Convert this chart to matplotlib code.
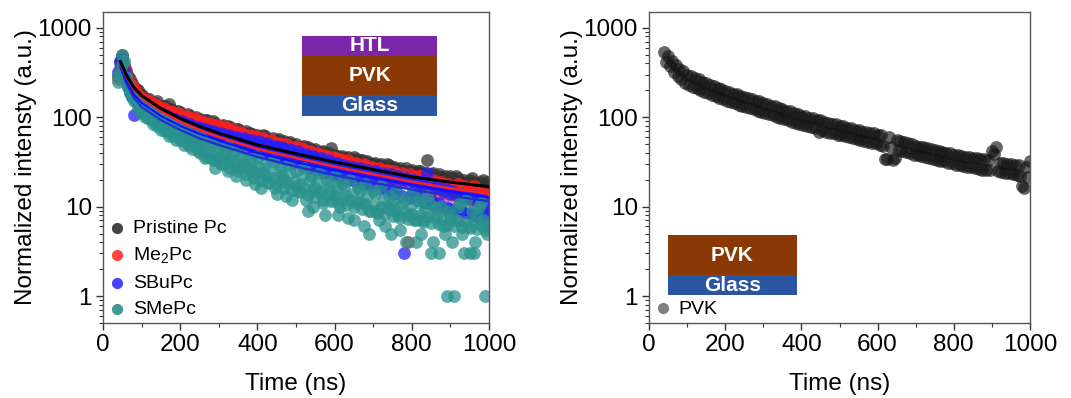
import matplotlib
matplotlib.use("Agg")
import matplotlib.pyplot as plt
from matplotlib.patches import Rectangle
from matplotlib.ticker import LogLocator, NullFormatter, FixedLocator

plt.rcParams['font.family'] = ['Liberation Sans', 'DejaVu Sans']
plt.rcParams['mathtext.default'] = 'regular'

# ---------------- data ----------------
# two interleaved sampling grids of the same decays
time_a = [40, 50, 60, 70, 80, 90, 100, 110, 120, 130, 140, 150, 160, 170, 180, 190,
          200, 210, 220, 230, 240, 250, 260, 270, 280, 290, 300, 310, 320, 330, 340,
          350, 360, 370, 380, 390, 400, 410, 420, 430, 440, 450, 460, 470, 480, 490,
          500, 510, 520, 530, 540, 550, 560, 570, 580, 590, 600, 610, 620, 630, 640,
          650, 660, 670, 680, 690, 700, 710, 720, 730, 740, 750, 760, 770, 780, 790,
          800, 810, 820, 830, 840, 850, 860, 870, 880, 890, 900, 910, 920, 930, 940,
          950, 960, 970, 980, 990, 1000]
time_b = [45, 55, 65, 75, 85, 95, 105, 115, 125, 135, 145, 155, 165, 175, 185, 195,
          205, 215, 225, 235, 245, 255, 265, 275, 285, 295, 305, 315, 325, 335, 345,
          355, 365, 375, 385, 395, 405, 415, 425, 435, 445, 455, 465, 475, 485, 495,
          505, 515, 525, 535, 545, 555, 565, 575, 585, 595, 605, 615, 625, 635, 645,
          655, 665, 675, 685, 695, 705, 715, 725, 735, 745, 755, 765, 775, 785, 795,
          805, 815, 825, 835, 845, 855, 865, 875, 885, 895, 905, 915, 925, 935, 945,
          955, 965, 975, 985, 995]

pristine_a = [290, 500, 340, 270, 215, 200, 175, 150, 160, 140, 150, 128, 135, 140, 120, 108,
              115, 100, 108, 92, 100, 95, 85, 92, 80, 86, 75, 82, 72, 78, 68,
              74, 64, 70, 66, 58, 64, 56, 61, 53, 58, 55, 49, 54, 52, 45,
              50, 43, 48, 46, 40, 44, 38, 42, 36, 45, 38, 33, 37, 35, 31,
              36, 30, 33, 28, 31, 30, 27, 30, 26, 29, 27, 24, 27, 25, 23,
              26, 22, 25, 21, 33, 23, 20, 23, 21, 19, 22, 18, 21, 19, 17,
              20, 18, 16, 19, 17, 18]
pristine_b = [420, 380, 290, 240, 205, 180, 165, 158, 142, 145, 130, 132, 118, 125, 112, 118,
              105, 96, 102, 98, 90, 88, 93, 84, 90, 78, 80, 76, 80, 70, 73,
              70, 67, 62, 65, 61, 60, 63, 57, 56, 52, 57, 52, 49, 53, 48,
              47, 46, 42, 44, 43, 40, 41, 39, 40, 36, 37, 36, 34, 36, 33,
              34, 33, 31, 32, 29, 31, 29, 28, 30, 27, 28, 26, 25, 27, 25,
              24, 25, 23, 24, 22, 24, 22, 21, 22, 20, 21, 22, 19, 20, 19,
              21, 19, 18, 20, 19]

me2_a = [270, 430, 300, 240, 210, 175, 165, 145, 150, 128, 135, 118, 125, 108, 115, 100,
         105, 92, 100, 86, 95, 80, 88, 76, 85, 72, 80, 68, 75, 64, 70,
         60, 66, 57, 62, 54, 60, 50, 56, 47, 53, 45, 50, 42, 48, 40,
         46, 38, 43, 35, 41, 33, 39, 31, 36, 30, 35, 28, 33, 27, 31,
         26, 30, 25, 29, 23, 27, 22, 26, 21, 25, 20, 23, 19, 22, 4,
         21, 17, 22, 16, 20, 15, 19, 14, 18, 14, 17, 13, 18, 12.5, 16,
         12, 17, 11.5, 14, 11, 13]
me2_b = [350, 360, 270, 225, 190, 170, 150, 155, 135, 140, 122, 128, 112, 118, 104, 110,
         96, 103, 90, 97, 84, 90, 80, 86, 75, 82, 72, 77, 67, 73, 63,
         68, 60, 64, 57, 61, 54, 58, 51, 55, 48, 52, 46, 50, 43, 47,
         41, 45, 39, 42, 37, 40, 35, 38, 33, 36, 31, 34, 30, 33, 28,
         31, 27, 30, 26, 28, 24, 27, 23, 26, 22, 25, 21, 24, 20, 23,
         19, 22, 18, 21, 17, 20, 16, 19, 15, 18, 15, 17, 14, 17, 13,
         16, 13, 15, 12, 14]

sbu_a = [320, 450, 260, 190, 105, 150, 130, 140, 115, 122, 100, 110, 92, 100, 85, 92,
         78, 86, 72, 80, 68, 75, 64, 72, 60, 68, 56, 64, 53, 62, 50,
         58, 47, 55, 45, 52, 43, 50, 40, 48, 38, 46, 36, 44, 34, 41,
         32, 39, 30, 37, 28, 35, 27, 33, 25, 31, 24, 30, 22, 28, 21,
         27, 20, 25, 19, 24, 18, 23, 17, 22, 16, 21, 15, 20, 3, 19,
         14, 18, 13, 17, 24, 12, 16, 11, 15, 10, 14, 9.5, 13, 9, 12.5,
         8.5, 12, 8, 11, 8, 10]
sbu_b = [400, 330, 220, 170, 160, 125, 135, 110, 118, 98, 112, 90, 104, 82, 96, 76,
         90, 70, 84, 66, 78, 62, 74, 58, 70, 55, 66, 52, 64, 49, 60,
         46, 58, 44, 55, 41, 54, 39, 51, 37, 48, 35, 46, 33, 44, 31,
         42, 29, 39, 27, 37, 26, 35, 24, 33, 23, 31, 21, 29, 20, 28,
         19, 27, 18, 26, 17, 25, 16, 24, 15, 23, 14, 22, 13, 21, 12.5,
         20, 12, 19, 11, 18, 10.5, 17, 10, 16, 9.5, 15, 9, 14, 8.5, 13,
         8, 13, 7.5, 12, 9]

sme_a = [290, 500, 280, 200, 165, 140, 120, 130, 105, 95, 110, 85, 92, 75, 82, 65,
         72, 58, 66, 52, 60, 45, 55, 40, 50, 27, 46, 36, 48, 33, 42,
         28, 38, 20, 34, 25, 36, 16, 30, 22, 32, 14, 27, 20, 29, 12,
         25, 18, 27, 9, 22, 16, 24, 11, 20, 15, 22, 8, 18, 13, 20,
         7, 16, 11, 18, 5, 15, 9, 17, 6, 13, 10, 15, 5.5, 12, 8,
         14, 4, 11, 7, 13, 3, 10, 3, 6, 1, 8, 1, 10, 5, 12,
         3, 3, 8, 11, 1, 6]
sme_b = [320, 420, 230, 180, 150, 125, 110, 100, 115, 88, 80, 95, 70, 86, 62, 78,
         55, 70, 48, 63, 42, 58, 35, 52, 33, 44, 30, 40, 25, 38, 22,
         35, 30, 27, 32, 18, 28, 24, 19, 30, 16, 25, 22, 13, 24, 19,
         15, 22, 12, 20, 10, 19, 15, 8, 18, 12, 16, 10, 17, 7.5, 14,
         11, 15, 6, 13, 9, 14, 7, 12, 10, 5, 12, 8, 11, 4, 10,
         7, 12, 5, 9, 11, 4, 8, 10, 5, 9, 4, 7, 11, 3, 6,
         9, 4, 10, 7, 5]
sme_c = [250, 380, 250, 185, 150, 128, 112, 100, 95, 83, 80, 71, 70, 62, 63, 55,
         56, 49, 50, 44, 46, 40, 42, 36, 38, 33, 35, 30, 33, 27, 30,
         25, 28, 23, 26, 21, 24, 20, 22.5, 18.5, 21, 17.5, 19.5, 16, 18, 15.5,
         17, 14.5, 16, 13.5, 15, 12.8, 14.5, 12, 13.5, 11.5, 13, 11, 12.5, 10.3, 11.8,
         9.8, 11.2, 9.3, 10.7, 8.9, 10.2, 8.5, 9.8, 8.2, 9.3, 7.9, 9, 7.5, 8.6, 7.2,
         8.2, 7, 8, 6.8, 7.7, 6.6, 7.5, 6.4, 7.3, 6.2, 7.1, 6, 6.9, 5.9, 6.7,
         5.8, 6.5, 5.6, 6.3, 5.5, 6.1]

# fitted decay curves
fit_time = [45, 60, 80, 100, 150, 200, 250, 300, 400, 500, 600, 700, 800, 900, 1000]
fit_pristine = [420, 300, 215, 175, 125, 97, 79, 66, 49, 39, 31.5, 26, 21.5, 18.8, 16.7]
fit_me2 = [400, 285, 205, 165, 117, 89, 72, 60, 44, 35, 28, 23, 19, 16, 14]
fit_sbu = [380, 260, 180, 145, 103, 80, 65, 55, 40, 31.5, 25.5, 21, 17.5, 14.8, 12.7]
fit_sme = [360, 240, 165, 130, 93, 72, 58, 49, 36, 28, 22.5, 18.5, 15.5, 13.2, 11.5]

pvk_a = [530, 480, 420, 385, 345, 325, 295, 290, 272, 265, 250, 243, 230, 224, 212, 206, 195,
         192, 184, 181, 173, 170, 163, 160, 153, 151, 144,
         142, 135, 133, 126, 125, 118, 117, 111, 109, 104,
         103, 98, 97, 93, 92, 88, 87, 83, 83, 80,
         79, 76, 76, 72, 72, 69, 69, 66, 66, 63,
         63, 34, 60, 33, 56, 54, 53, 51, 50, 48,
         47, 46, 45, 44, 43, 42, 41, 40, 39.5, 38,
         37.5, 37, 36, 36, 35, 35, 34, 34, 33, 42,
         46, 31, 31, 30, 30, 29.5, 29, 17, 28, 32]
pvk_b = [410, 370, 320, 290, 265, 243, 230, 218, 210, 200, 193, 185, 179, 171, 164, 158,
         152, 147, 143, 138, 134, 130, 126, 122, 118, 115,
         112, 108, 105, 101, 98, 95, 92, 89, 86, 83,
         81, 79, 77, 75, 68, 71, 69, 67, 66, 64,
         63, 61, 60, 58, 57, 56, 54, 53, 52, 51,
         49, 48, 34, 46, 35, 43, 42, 41, 40, 38,
         37.5, 36.5, 36, 35, 34, 33.5, 32.5, 32, 31, 30.5,
         29.5, 29, 28.5, 28, 27.5, 27, 26.5, 26, 26, 25.5,
         39, 25, 24.5, 24, 23.5, 23, 22.5, 22, 16, 21.5]

series_labels = ['Pristine Pc', 'Me$_2$Pc', 'SBuPc', 'SMePc']
x_ticks = [0, 200, 400, 600, 800, 1000]

# ---------------- figure ----------------
W, H = 1071, 398
fig = plt.figure(figsize=(W / 100, H / 100), dpi=100)
ax1 = fig.add_axes([103 / W, 75 / H, 386 / W, 311 / H])
ax2 = fig.add_axes([649 / W, 75 / H, 381 / W, 311 / H])

ms = 85
pt_colors = ['#333333', '#ff2020', '#2020ff', '#2a928c']
leg_colors = ['#444444', '#ff4444', '#4444ff', '#3f9a95']
data_sets = [[(time_a, pristine_a), (time_b, pristine_b)],
             [(time_a, me2_a), (time_b, me2_b)],
             [(time_a, sbu_a), (time_b, sbu_b)],
             [(time_a, sme_a), (time_b, sme_b), (time_a, sme_c)]]
for sets, c in zip(data_sets, pt_colors):
    for tt, vv in sets:
        ax1.scatter(tt, vv, s=ms, color=c, alpha=0.75, linewidths=0, zorder=2)

ax1.plot(fit_time, fit_sme, color='#1f2fd0', lw=1.6, zorder=3)
ax1.plot(fit_time, fit_sbu, color='#1010ff', lw=1.6, zorder=3)
ax1.plot(fit_time, fit_me2, color='#ff2020', lw=1.8, zorder=3)
ax1.plot(fit_time, fit_pristine, color='black', lw=2.2, zorder=4)

handles = [ax1.scatter([], [], s=65, color=c, linewidths=0) for c in leg_colors]
ax1.legend(handles, series_labels, loc='lower left', bbox_to_anchor=(-0.023, -0.022),
           frameon=False, fontsize=14, handletextpad=0.2, handlelength=1.2,
           labelspacing=0.45, borderaxespad=0.2)

ax2.scatter(time_a, pvk_a, s=ms, color='#151515', alpha=0.65, linewidths=0, zorder=2)
ax2.scatter(time_b, pvk_b, s=ms, color='#151515', alpha=0.65, linewidths=0, zorder=2)
h2 = ax2.scatter([], [], s=65, color='#808080', linewidths=0)
ax2.legend([h2], ['PVK'], loc='lower left', bbox_to_anchor=(-0.024, -0.02),
           frameon=False, fontsize=14, handletextpad=0.2, handlelength=1.2,
           borderaxespad=0.2)

for ax in (ax1, ax2):
    ax.set_yscale('log')
    ax.set_xlim(0, 1000)
    ax.set_ylim(0.5, 1500)
    ax.xaxis.set_major_locator(FixedLocator(x_ticks))
    ax.xaxis.set_minor_locator(FixedLocator([100, 300, 500, 700, 900]))
    ax.yaxis.set_major_locator(FixedLocator([1, 10, 100, 1000]))
    ax.yaxis.set_minor_locator(LogLocator(base=10, subs=range(2, 10)))
    ax.yaxis.set_minor_formatter(NullFormatter())
    ax.set_yticklabels(['1', '10', '100', '1000'])
    ax.tick_params(axis='both', which='major', direction='out', length=5, width=1,
                   labelsize=17.5, color='#333333', pad=3)
    ax.tick_params(axis='both', which='minor', direction='out', length=3, width=0.8,
                   color='#333333')
    for sp in ax.spines.values():
        sp.set_color('#555555')
        sp.set_linewidth(1.0)
    ax.set_xlabel('Time (ns)', fontsize=17.5, labelpad=12)
    ax.set_ylabel('Normalized intensty (a.u.)', fontsize=17.5, labelpad=0.5)

# layer stack insets
def layer(ax, x0, x1, y0, y1, color, text):
    ax.add_patch(Rectangle((x0, y0), x1 - x0, y1 - y0, transform=ax.transAxes,
                           facecolor=color, edgecolor='none', zorder=5))
    ax.text((x0 + x1) / 2, (y0 + y1) / 2, text, transform=ax.transAxes, color='white',
            fontsize=15, fontweight='bold', ha='center', va='center', zorder=6)

purple, brown, blue = '#7b25a9', '#8b3807', '#2a55a0'
layer(ax1, 0.516, 0.865, 0.859, 0.923, purple, 'HTL')
layer(ax1, 0.516, 0.865, 0.733, 0.859, brown, 'PVK')
layer(ax1, 0.516, 0.865, 0.666, 0.733, blue, 'Glass')

layer(ax2, 0.05, 0.388, 0.154, 0.283, brown, 'PVK')
layer(ax2, 0.05, 0.388, 0.090, 0.154, blue, 'Glass')

fig.savefig('out.png', dpi=100)
